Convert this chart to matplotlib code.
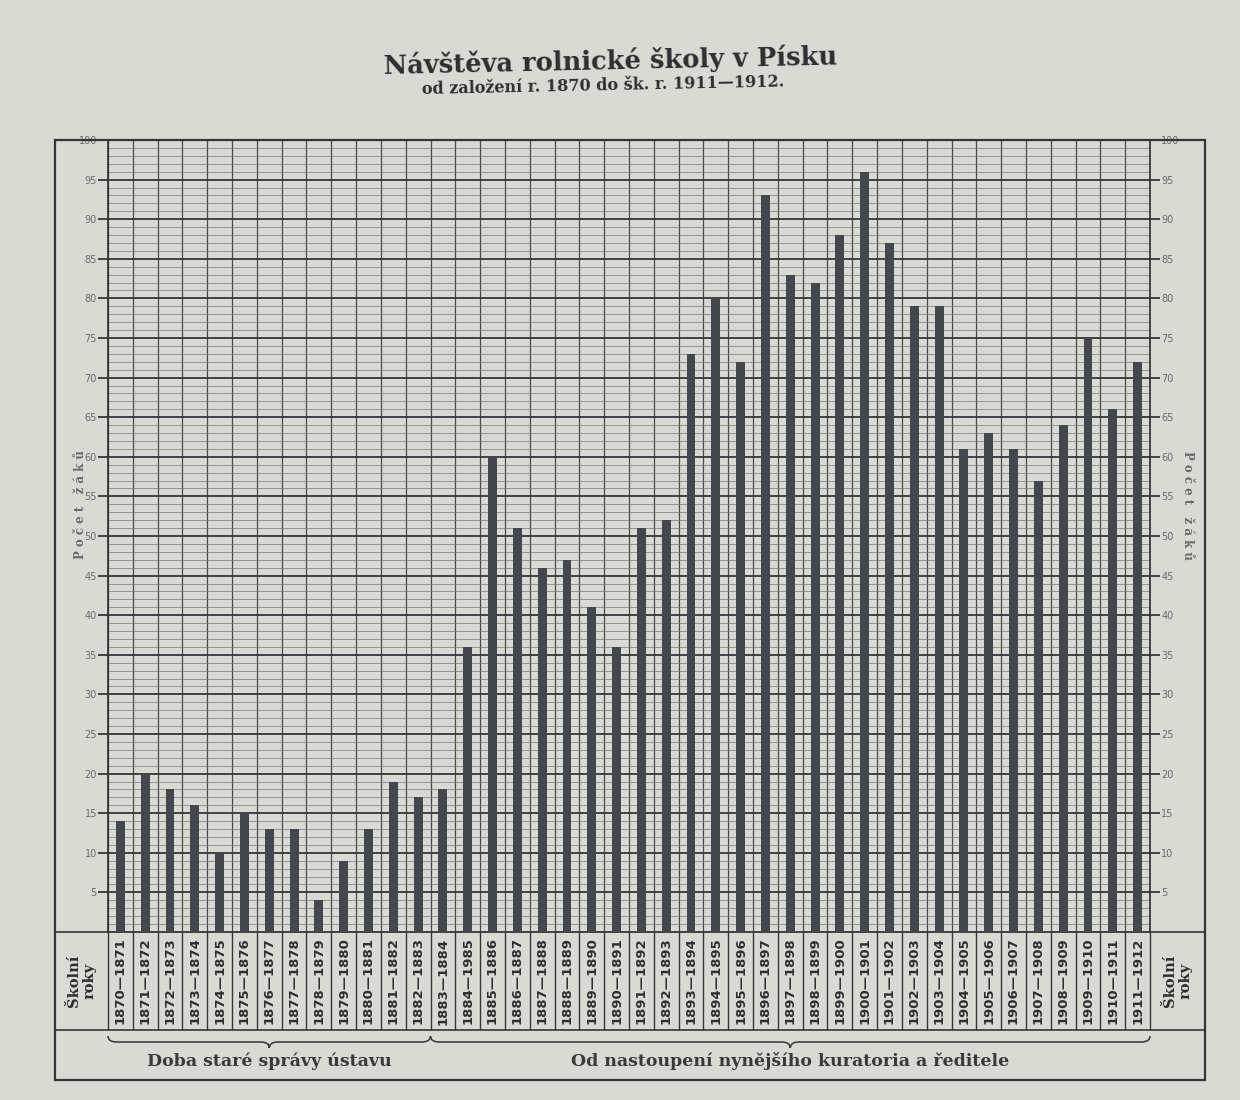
import numpy as np
import matplotlib
matplotlib.use("Agg")
import matplotlib.pyplot as plt
import matplotlib.transforms as mtransforms
from matplotlib.path import Path
from matplotlib.patches import PathPatch, Rectangle
from matplotlib.ticker import MultipleLocator

# školní roky (categories)
school_years = [
    "1870—1871", "1871—1872", "1872—1873", "1873—1874", "1874—1875", "1875—1876",
    "1876—1877", "1877—1878", "1878—1879", "1879—1880", "1880—1881", "1881—1882",
    "1882—1883", "1883—1884", "1884—1985", "1885—1886", "1886—1887", "1887—1888",
    "1888—1889", "1889—1890", "1890—1891", "1891—1892", "1892—1893", "1893—1894",
    "1894—1895", "1895—1896", "1896—1897", "1897—1898", "1898—1899", "1899—1900",
    "1900—1901", "1901—1902", "1902—1903", "1903—1904", "1904—1905", "1905—1906",
    "1906—1907", "1907—1908", "1908—1909", "1909—1910", "1910—1911", "1911—1912",
]

# počet žáků
pupils = [14, 20, 18, 16, 10, 15, 13, 13, 4, 9, 13, 19, 17, 18,
          36, 60, 51, 46, 47, 41, 36, 51, 52, 73,
          80, 72, 93, 83, 82, 88, 96, 87, 79, 79,
          61, 63, 61, 57, 64, 75, 66, 72]

# the two periods under the year row: (label, first year index, last year index)
period_labels = ["Doba staré správy ústavu",
                 "Od nastoupení nynějšího kuratoria a ředitele"]
period_first = [0, 13]
period_last = [12, 41]

y_ticks = [5, 10, 15, 20, 25, 30, 35, 40, 45, 50, 55, 60, 65, 70, 75, 80, 85, 90, 95, 100]

title = "Návštěva rolnické školy v Písku"
subtitle = "od založení r. 1870 do šk. r. 1911—1912."
axis_label = "P o č e t   ž á k ů"
row_label = "Školní\nroky"

paper = "#d9dad4"
ink = "#363638"
bar_color = "#45474f"

W, H = 1240, 1100
fig = plt.figure(figsize=(W / 100, H / 100), dpi=100)
fig.patch.set_facecolor(paper)

# pixel layout
frame_l, frame_r, frame_t, frame_b = 55, 1205, 140, 1080
grid_l, grid_r, grid_b = 108, 1150, 932
row_b = 1030

# overlay in pixel coordinates for frame, table and texts
over = fig.add_axes([0, 0, 1, 1])
over.set_xlim(0, W)
over.set_ylim(H, 0)
over.axis("off")
over.patch.set_alpha(0)

ax = fig.add_axes([grid_l / W, 1 - grid_b / H, (grid_r - grid_l) / W, (grid_b - frame_t) / H])
ax.set_facecolor(paper)
ax.set_zorder(2)
over.set_zorder(3)

n = len(school_years)
x = np.arange(n)
ax.set_xlim(-0.5, n - 0.5)
ax.set_ylim(0, 100)

# grid: thin line every pupil, thick every 5, one vertical line per column
ax.yaxis.set_major_locator(plt.FixedLocator(y_ticks))
ax.yaxis.set_minor_locator(MultipleLocator(1))
ax.set_xticks(np.arange(-0.5, n, 1))
ax.grid(which="major", axis="y", color=ink, lw=1.3)
ax.grid(which="minor", axis="y", color="#77777a", lw=0.5)
ax.grid(which="major", axis="x", color="#4a4a4c", lw=0.9)
ax.set_axisbelow(True)

ax.bar(x, pupils, width=0.36, color=bar_color, zorder=3)

ax.tick_params(axis="y", which="major", length=7, width=1.3, color=ink,
               labelsize=7, labelcolor="#6a6a6a", left=True, right=True,
               labelleft=True, labelright=True, pad=1)
ax.tick_params(axis="y", which="minor", length=0)
ax.tick_params(axis="x", which="both", length=0, labelbottom=False)
for s in ax.spines.values():
    s.set_color(ink)
    s.set_linewidth(1.3)

# title
over.text(610, 61, title, ha="center", va="center", fontsize=18.5, fontweight="bold",
          family="DejaVu Serif", color="#2e2e30", rotation=1.2)
over.text(603, 86, subtitle, ha="center", va="center", fontsize=11.5, fontweight="bold",
          family="DejaVu Serif", color="#2e2e30", rotation=1.2)

# axis labels on both sides
over.text(80, 505, axis_label, rotation=90, ha="center", va="center",
          fontsize=8.5, color="#6a6a6a", fontweight="bold", family="DejaVu Serif")
over.text(1188, 505, axis_label, rotation=270, ha="center", va="center",
          fontsize=8.5, color="#6a6a6a", fontweight="bold", family="DejaVu Serif")

# outer frame and table lines
over.add_patch(Rectangle((frame_l, frame_t), frame_r - frame_l, frame_b - frame_t,
                         fill=False, ec=ink, lw=1.6))
over.plot([frame_l, grid_l], [grid_b, grid_b], color=ink, lw=1.2)
over.plot([grid_r, frame_r], [grid_b, grid_b], color=ink, lw=1.2)
over.plot([frame_l, frame_r], [row_b, row_b], color=ink, lw=1.2)

trans = mtransforms.blended_transform_factory(ax.transData, over.transData)
ax.vlines(np.arange(-0.5, n, 1), grid_b, row_b, transform=trans, color=ink,
          lw=1.0, clip_on=False)

row_mid = (grid_b + row_b) / 2
for i, lab in enumerate(school_years):
    ax.text(i, row_mid, lab, transform=trans, rotation=90, ha="center", va="center",
            fontsize=9.5, fontweight="bold", color="#2e2e30", clip_on=False,
            family=["Liberation Sans Narrow", "DejaVu Sans"])

over.text((frame_l + grid_l) / 2, row_mid, row_label, rotation=90, ha="center",
          va="center", fontsize=10.5, fontweight="bold", family="DejaVu Serif",
          color="#2e2e30", linespacing=1.1)
over.text((grid_r + frame_r) / 2, row_mid, row_label, rotation=90, ha="center",
          va="center", fontsize=10.5, fontweight="bold", family="DejaVu Serif",
          color="#2e2e30", linespacing=1.1)


def brace(x0, x1, yb, h=6, d=0.35):
    xm = (x0 + x1) / 2
    verts = [(x0, yb - h), (x0, yb), (x0 + d, yb), (xm - d, yb),
             (xm, yb), (xm, yb + h), (xm, yb), (xm + d, yb),
             (x1 - d, yb), (x1, yb), (x1, yb - h)]
    codes = [Path.MOVETO, Path.CURVE3, Path.CURVE3, Path.LINETO,
             Path.CURVE3, Path.CURVE3, Path.CURVE3, Path.CURVE3,
             Path.LINETO, Path.CURVE3, Path.CURVE3]
    ax.add_patch(PathPatch(Path(verts, codes), transform=trans, fill=False,
                           ec=ink, lw=1.1, clip_on=False))


for lab, a, b in zip(period_labels, period_first, period_last):
    brace(a - 0.5, b + 0.5, 1042)
    ax.text((a + b) / 2, 1061, lab, transform=trans, ha="center", va="center",
            fontsize=12.5, fontweight="bold", family="DejaVu Serif", color="#3a3a3c",
            clip_on=False)

fig.savefig("out.png", dpi=100, facecolor=fig.get_facecolor())
